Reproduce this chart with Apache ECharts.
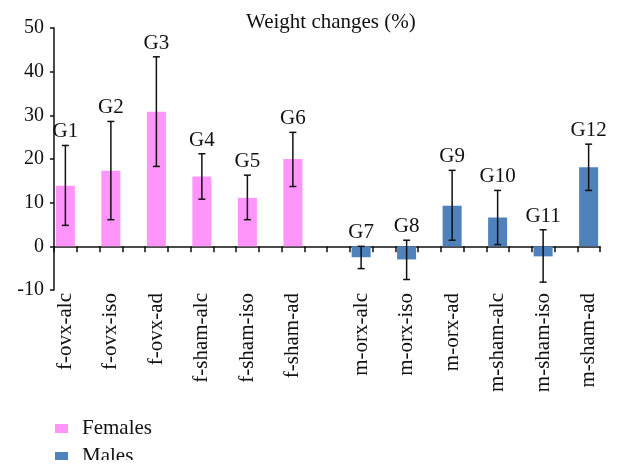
<!DOCTYPE html>
<html><head><meta charset="utf-8">
<script src="https://cdn.jsdelivr.net/npm/echarts@6/dist/echarts.min.js"></script>
<style>html,body{margin:0;padding:0;background:#fff;}#wrap{width:621px;height:460px;overflow:hidden;}#c{width:621px;height:520px;}</style>
</head><body><div id="wrap"><div id="c"></div></div>
<script>
// ---- data ----
const femaleCategories = ['f-ovx-alc','f-ovx-iso','f-ovx-ad','f-sham-alc','f-sham-iso','f-sham-ad'];
const maleCategories   = ['m-orx-alc','m-orx-iso','m-orx-ad','m-sham-alc','m-sham-iso','m-sham-ad'];
const femaleGroups = ['G1','G2','G3','G4','G5','G6'];
const maleGroups   = ['G7','G8','G9','G10','G11','G12'];
const femaleValues  = [13.9, 17.3, 30.8, 16.0, 11.1, 20.0];
const femaleErrLow  = [4.8, 6.1, 18.3, 10.8, 6.1, 13.7];
const femaleErrHigh = [23.1, 28.6, 43.4, 21.2, 16.3, 26.1];
const maleValues  = [-2.5, -3.0, 9.3, 6.6, -2.3, 18.1];
const maleErrLow  = [-5.1, -7.6, 1.4, 0.4, -8.2, 12.8];
const maleErrHigh = [0.0, 1.4, 17.4, 12.8, 3.8, 23.4];
const yMin = -10, yMax = 50, yStep = 10;
const titleText = 'Weight changes (%)';
const seriesNames = ['Females','Males'];

// ---- build 24 half-category slots (12 clusters x 2 series) ----
const nSlots = 24;
const femaleSlots = femaleCategories.map((_, i) => 2 * i);
const maleSlots = maleCategories.map((_, i) => 13 + 2 * i);
const slotLabels = new Array(nSlots).fill('');
const femaleData = new Array(nSlots).fill(null);
const maleData = new Array(nSlots).fill(null);
const errData = [];
femaleSlots.forEach((s, i) => {
  slotLabels[s] = femaleCategories[i];
  femaleData[s] = femaleValues[i];
  errData.push([s, femaleErrLow[i], femaleErrHigh[i], femaleGroups[i]]);
});
maleSlots.forEach((s, i) => {
  slotLabels[s] = maleCategories[i];
  maleData[s] = maleValues[i];
  errData.push([s, maleErrLow[i], maleErrHigh[i], maleGroups[i]]);
});
const slotNames = slotLabels.map((l, i) => l || ('_' + i));

const FONT = '"Liberation Serif", "Times New Roman", serif';
const chart = echarts.init(document.getElementById('c'), null, {renderer: 'canvas'});

chart.setOption({
  animation: false,
  backgroundColor: '#fff',
  title: {
    text: titleText, left: 241, top: 7,
    textStyle: {fontFamily: FONT, fontSize: 21, fontWeight: 'normal', color: '#111'}
  },
  legend: {
    data: seriesNames, orient: 'vertical', left: 55, top: 418, padding: 0,
    icon: 'rect', itemWidth: 13, itemHeight: 9, itemGap: 7,
    textStyle: {fontFamily: FONT, fontSize: 21, lineHeight: 21, color: '#111', padding: [0, 0, 0, 9]}
  },
  grid: {left: 54, right: 21, top: 28, bottom: 230, containLabel: false},
  xAxis: [
    {
      type: 'category', data: slotNames, position: 'bottom',
      axisLine: {onZero: true, lineStyle: {color: '#111', width: 1.5}},
      axisTick: {show: true, interval: 0, alignWithLabel: false, length: 6, lineStyle: {color: '#111', width: 1.5}},
      axisLabel: {show: false}, splitLine: {show: false}
    },
    {
      type: 'category', data: slotNames, position: 'bottom',
      axisLine: {show: false, onZero: false}, axisTick: {show: false},
      axisLabel: {
        show: true, interval: 0, rotate: 90, margin: 3,
        fontFamily: FONT, fontSize: 21, color: '#111',
        formatter: v => (v.charAt(0) === '_' ? '' : v)
      },
      splitLine: {show: false}
    }
  ],
  yAxis: {
    type: 'value', min: yMin, max: yMax, interval: yStep,
    axisLine: {show: true, lineStyle: {color: '#111', width: 1.5}},
    axisTick: {show: true, length: 4, lineStyle: {color: '#111', width: 1.5}},
    axisLabel: {fontFamily: FONT, fontSize: 20, color: '#111', margin: 10},
    splitLine: {show: false}
  },
  series: [
    {
      name: seriesNames[0], type: 'bar', xAxisIndex: 0, data: femaleData,
      barWidth: 19, barGap: '-100%', itemStyle: {color: '#FF94FA'}
    },
    {
      name: seriesNames[1], type: 'bar', xAxisIndex: 0, data: maleData,
      barWidth: 19, barGap: '-100%', itemStyle: {color: '#4F81BD'}
    },
    {
      name: 'err', type: 'custom', xAxisIndex: 0, data: errData, clip: false, z: 10,
      encode: {x: 0, y: [1, 2]},
      renderItem: function (params, api) {
        const idx = api.value(0);
        const lo = api.coord([idx, api.value(1)]);
        const hi = api.coord([idx, api.value(2)]);
        const x = lo[0];
        const cap = 3.5;
        const ls = {stroke: '#111', lineWidth: 1.5};
        return {
          type: 'group',
          children: [
            {type: 'line', shape: {x1: x, y1: lo[1], x2: x, y2: hi[1]}, style: ls},
            {type: 'line', shape: {x1: x - cap, y1: lo[1], x2: x + cap, y2: lo[1]}, style: ls},
            {type: 'line', shape: {x1: x - cap, y1: hi[1], x2: x + cap, y2: hi[1]}, style: ls},
            {type: 'text', style: {
              text: api.value(3), x: x, y: hi[1] - 3,
              align: 'center', verticalAlign: 'bottom',
              font: '21px ' + FONT, fill: '#111'
            }}
          ]
        };
      }
    }
  ]
});
</script>
</body></html>
